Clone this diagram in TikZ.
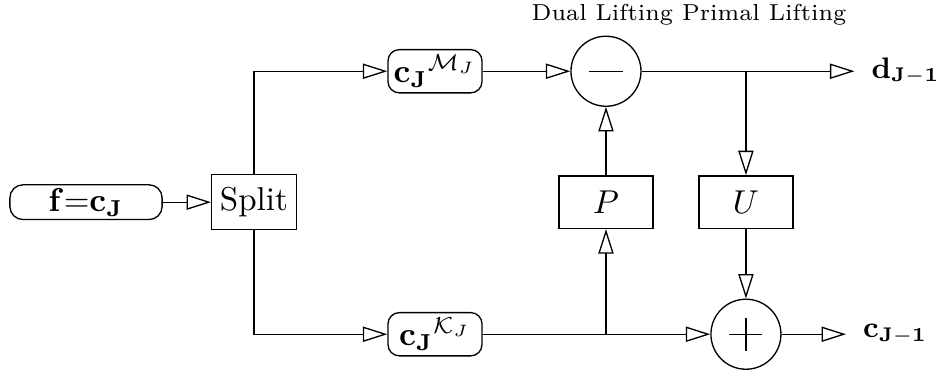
\documentclass[tikz,border=0pt]{standalone}
\usepackage{amsmath}
\usepackage{tikz}
\usetikzlibrary{arrows.meta}

\begin{document}
\begin{tikzpicture}[
  box/.style={draw, minimum width=1cm, minimum height=0.56cm, inner xsep=2pt},
  rbox/.style={draw, rounded corners=0.12cm, minimum width=1cm, minimum height=0.46cm, inner xsep=1.5pt, inner ysep=1pt},
  sumnode/.style={draw, circle, minimum size=0.745cm, inner sep=0pt},
  outlabel/.style={font=\small, inner xsep=5pt, inner ysep=0pt},
  flow/.style={-{Triangle[open, length=7.4pt, width=4.6pt]}}
]
\useasboundingbox (0,0) rectangle (9.99,3.96);

% input and split
\node[rbox, rounded corners=0.14cm, minimum width=1.62cm, minimum height=0.37cm] (f) at (0.915,1.809) {$\mathbf{f{=}c_J}$};
\node[box, minimum width=0.9cm, minimum height=0.585cm] (split) at (2.702,1.809) {Split};

% the two subsets
\node[rbox] (cM) at (4.628,3.202) {$\mathbf{c_J}^{\mathcal{M}_J}$};
\node[rbox] (cK) at (4.628,0.404) {$\mathbf{c_J}^{\mathcal{K}_J}$};

% lifting steps
\node[sumnode] (minus) at (6.447,3.202) {};
\node[sumnode] (plus) at (7.936,0.404) {};
\node[box] (P) at (6.447,1.809) {$P$};
\node[box] (U) at (7.936,1.809) {$U$};

% signs in the circles
\draw ([xshift=-0.176cm]minus.center) -- ([xshift=0.176cm]minus.center);
\draw ([xshift=-0.176cm]plus.center) -- ([xshift=0.176cm]plus.center);
\draw ([yshift=-0.176cm]plus.center) -- ([yshift=0.176cm]plus.center);

% outputs
\node[outlabel, anchor=west] (d) at (9.09,3.202) {$\mathbf{d_{J-1}}$};
\node[outlabel, anchor=west] (c) at (9.0,0.404) {$\mathbf{c_{J-1}}$};

% heading over the lifting steps
\node[font=\scriptsize] (title) at (7.33,3.798) {Dual Lifting Primal Lifting};

% junctions
\coordinate (jd) at (U |- minus);
\coordinate (jc) at (P |- cK);

% connectors
\draw[flow] (f) -- (split);
\draw[flow] (split) |- (cM);
\draw[flow] (split) |- (cK);
\draw[flow] (cM) -- (minus);
\draw[flow] (minus) -- (d);
\draw[flow] (jd) -- (U);
\draw[flow] (U) -- (plus);
\draw[flow] (cK) -- (plus);
\draw[flow] (jc) -- (P);
\draw[flow] (P) -- (minus);
\draw[flow] (plus) -- (c);

\end{tikzpicture}
\end{document}
